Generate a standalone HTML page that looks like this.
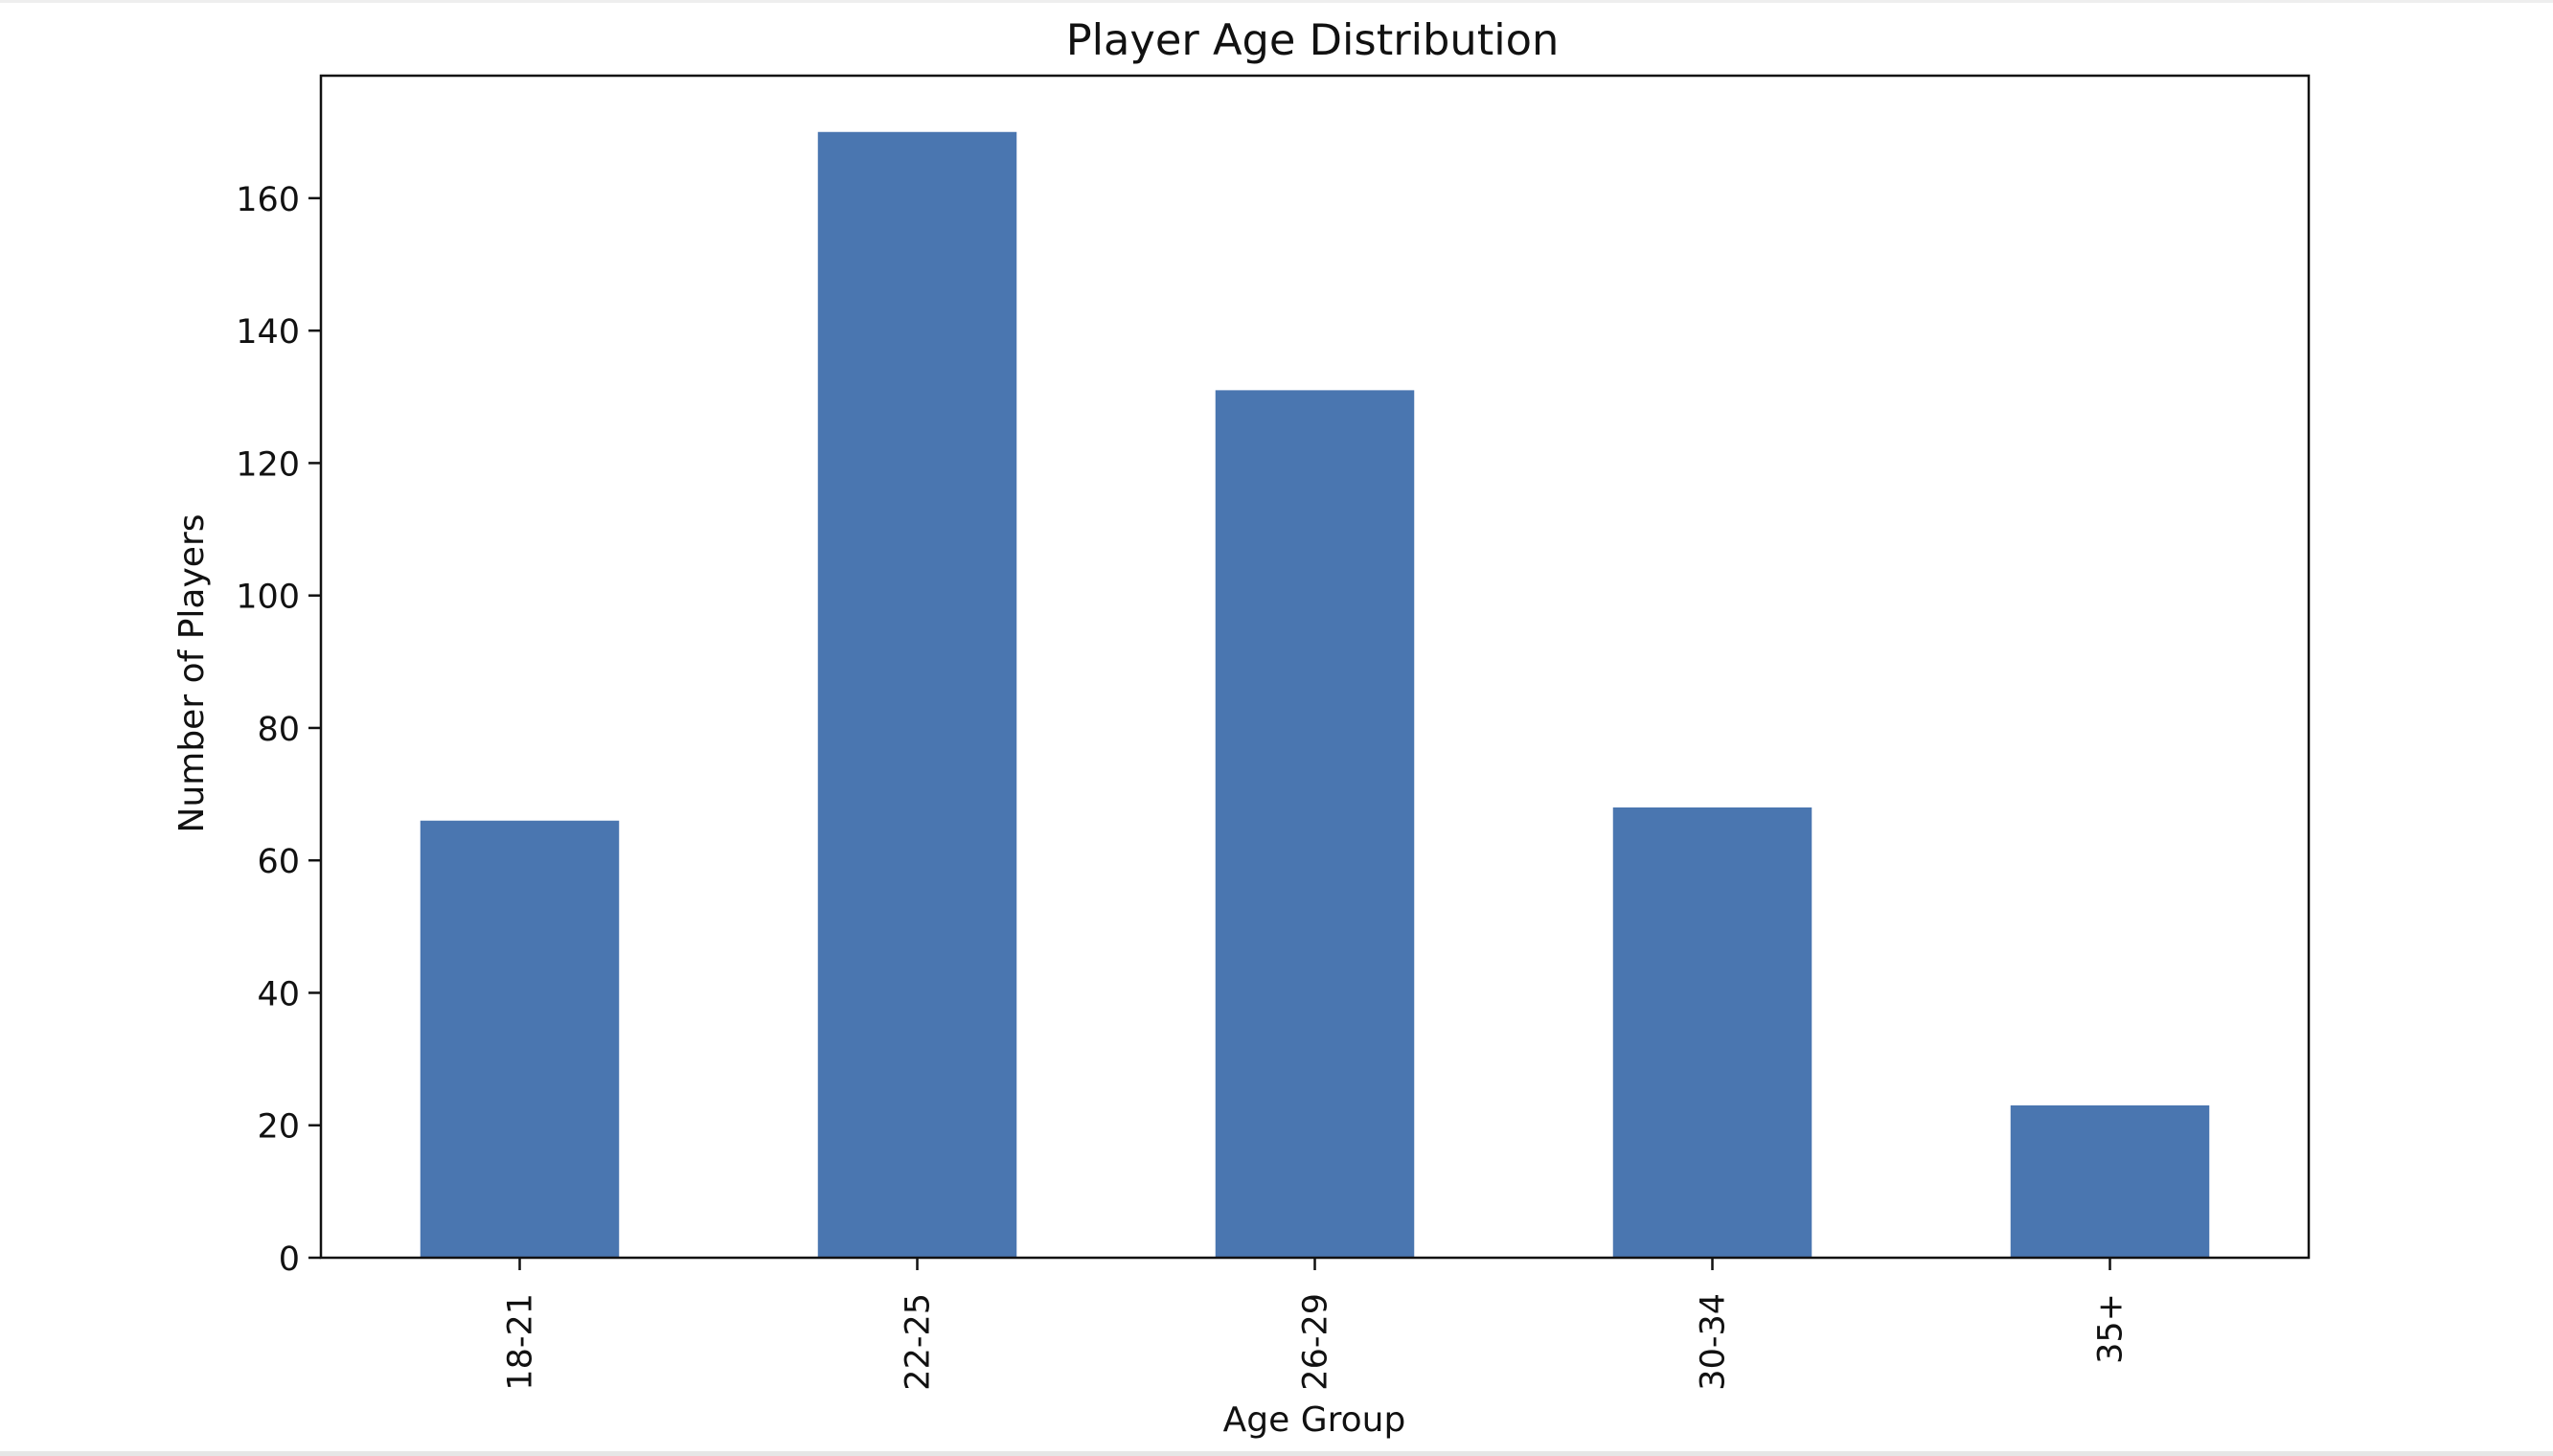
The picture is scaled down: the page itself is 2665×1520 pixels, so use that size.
<!DOCTYPE html>
<html><head><meta charset="utf-8"><style>
html,body{margin:0;padding:0;background:#fff;}
svg{display:block;font-family:"DejaVu Sans","Liberation Sans",sans-serif;}
</style></head><body>
<svg id="chart" width="2665" height="1520" viewBox="0 0 2665 1520" xmlns="http://www.w3.org/2000/svg">
<rect x="0" y="0" width="2665" height="1520" fill="#fff"/>
<rect x="0" y="0" width="2665" height="3" fill="#eeeeee"/>
<rect x="0" y="1515" width="2665" height="5" fill="#e6e6e6"/>
<text x="1370" y="57" font-size="44.7" text-anchor="middle" fill="#111">Player Age Distribution</text>
<g id="bars"></g>
<g id="yaxis"></g>
<g id="xaxis"></g>
<rect x="335" y="79" width="2075" height="1234" fill="none" stroke="#111" stroke-width="2.5"/>
<text x="1372" y="1494" font-size="36" text-anchor="middle" fill="#111">Age Group</text>
<text transform="translate(212,703) rotate(-90)" font-size="36" text-anchor="middle" fill="#111">Number of Players</text>
</svg>
<script>
const categories = ["18-21","22-25","26-29","30-34","35+"];
const playerCounts = [66,170,131,68,23];
const yTicks = [0,20,40,60,80,100,120,140,160];
const yMax = 178.5;

const L=335,R=2410,T=79,B=1313;
const NS="http://www.w3.org/2000/svg";
const band=(R-L)/categories.length;
function xScale(i){return L+band*(i+0.5);}
function yScale(v){return B-(v/yMax)*(B-T);}
function mk(tag,attrs,parent){const e=document.createElementNS(NS,tag);for(const k in attrs)e.setAttribute(k,attrs[k]);parent.appendChild(e);return e;}

const gb=document.getElementById('bars');
playerCounts.forEach((v,i)=>{
  const w=band*0.5;
  const r=mk('rect',{x:xScale(i)-w/2,y:yScale(v),width:w,height:B-yScale(v),fill:'#4a76b0'},gb);
  
  
});
const gy=document.getElementById('yaxis');
yTicks.forEach(t=>{
  const y=yScale(t);
  const l=mk('line',{x1:L-13,x2:L,y1:y,y2:y,stroke:'#111','stroke-width':2.5},gy);
  
  
  const tx=mk('text',{x:L-22,y:y+13,'font-size':35,'text-anchor':'end',fill:'#111'},gy);
  tx.textContent=t;
  
  
});
const gx=document.getElementById('xaxis');
categories.forEach((c,i)=>{
  const x=xScale(i);
  const l=mk('line',{x1:x,x2:x,y1:B,y2:B+13,stroke:'#111','stroke-width':2.5},gx);
  
  
  const tx=mk('text',{transform:'translate('+(x+12)+','+(B+37)+') rotate(-90)','font-size':35,'text-anchor':'end',fill:'#111'},gx);
  tx.textContent=c;
  
  
});
</script>
</body></html>
